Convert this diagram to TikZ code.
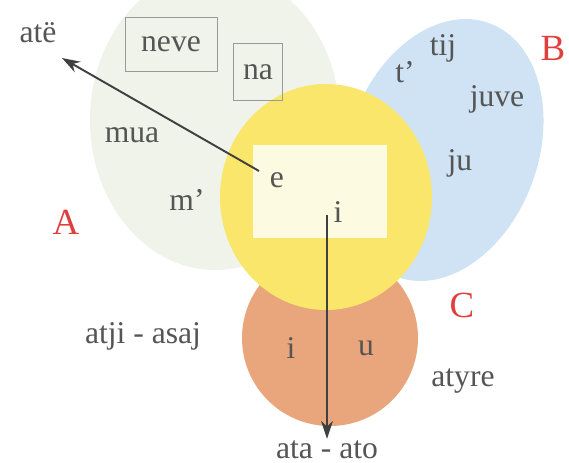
\documentclass[tikz,border=0pt]{standalone}
\usepackage{fontspec}
\setmainfont{Liberation Serif}
\usepackage{xcolor}
\usetikzlibrary{arrows.meta}
\definecolor{wordgray}{HTML}{555555}
\definecolor{letterred}{HTML}{E0403C}
\definecolor{setA}{HTML}{F0F3EA}
\definecolor{setB}{HTML}{CFE3F5}
\definecolor{setC}{HTML}{E9A67C}
\definecolor{setY}{HTML}{F9E66A}
\definecolor{inner}{HTML}{FCFAE0}
\tikzset{word/.style={text=wordgray, font=\fontsize{18}{21}\selectfont, inner sep=1pt},
  setname/.style={text=letterred, font=\fontsize{21}{24}\selectfont, inner sep=1pt},
  boxed/.style={word, draw=gray!80, line width=0.5pt},
  pointer/.style={-{Stealth[length=3.6mm, width=2.4mm]}, line width=1.1pt, draw=black!75}}

\begin{document}
\begin{tikzpicture}[x=0.02cm, y=-0.02cm]
\useasboundingbox (0,0) rectangle (569,463);
% sets
\fill[setA] (215,120) ellipse [x radius=125, y radius=150];
\fill[setB, rotate around={-20:(443,150)}] (443,150) ellipse [x radius=95, y radius=135];
\fill[setC] (330,338) ellipse [x radius=88, y radius=88];
\fill[setY] (326,197) ellipse [x radius=106, y radius=113];
\fill[inner] (253,145) rectangle (387,238);
% A
\node[word] (ate) at (38,33) {atë};
\node[boxed, minimum width=92*0.02cm, minimum height=54*0.02cm] (neve) at (171,44) {neve};
\node[boxed, minimum width=49*0.02cm, minimum height=57*0.02cm] (na) at (258,72) {na};
\node[word] (mua) at (132,135) {mua};
\node[word] (m) at (187,200) {m’};
\node[setname] (A) at (66,222) {A};
% B
\node[word] (t) at (405,72) {t’};
\node[word] (tij) at (443,48) {tij};
\node[word] (juve) at (497,99) {juve};
\node[word] (ju) at (460,163) {ju};
\node[setname] (B) at (553,48) {B};
% C
\node[setname] (C) at (462,305) {C};
\node[word] (atji) at (143,336) {atji - asaj};
\node[word] (iC) at (291,348) {i};
\node[word] (u) at (366,348) {u};
\node[word] (atyre) at (463,381) {atyre};
\node[word] (ata) at (327,450) {ata - ato};
% centre
\node[word] (e) at (277,180) {e};
\node[word] (i) at (338,212) {i};
\coordinate (eTail) at (259,171);
\coordinate (ateHead) at (62,58);
\coordinate (iTail) at (327,215);
\draw[pointer] (eTail) -- (ateHead);
\draw[pointer] (iTail) -- (ata.north);
\end{tikzpicture}
\end{document}
